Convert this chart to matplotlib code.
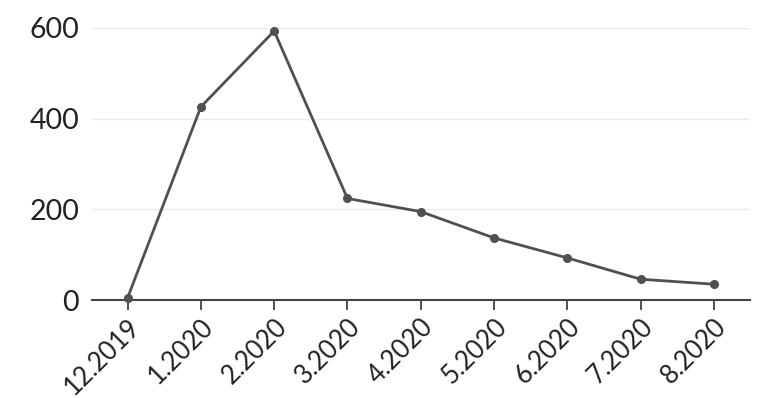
import matplotlib.pyplot as plt

months = ['12.2019', '1.2020', '2.2020', '3.2020', '4.2020',
          '5.2020', '6.2020', '7.2020', '8.2020']
values = [5, 426, 593, 224, 195, 137, 93, 46, 35]

plt.rcParams['font.family'] = ['Lato', 'DejaVu Sans']

fig = plt.figure(figsize=(7.77, 3.98), dpi=100)
ax = fig.add_axes([0.118, 0.246, 0.847, 0.684])

x = list(range(len(months)))
ax.plot(x, values, color='#505050', linewidth=2, marker='o', markersize=5.5,
        clip_on=False, zorder=3)

ax.set_xlim(-0.49, 8.49)
ax.set_ylim(0, 600)
ax.set_yticks([0, 200, 400, 600])
ax.set_xticks(x)
ax.set_xticklabels(months, rotation=45, ha='right', rotation_mode='anchor')

for s in ['top', 'right', 'left']:
    ax.spines[s].set_visible(False)
ax.spines['bottom'].set_color('#444444')
ax.spines['bottom'].set_linewidth(1.5)

ax.grid(axis='y', color='#ebebeb', linewidth=1)
ax.set_axisbelow(True)
ax.tick_params(axis='y', length=0, pad=9, labelsize=20.5, labelcolor='#222222')
ax.tick_params(axis='x', length=7, width=1.3, color='#444444', pad=3,
               labelsize=18.5, labelcolor='#222222')

fig.savefig('out.png', dpi=100)
